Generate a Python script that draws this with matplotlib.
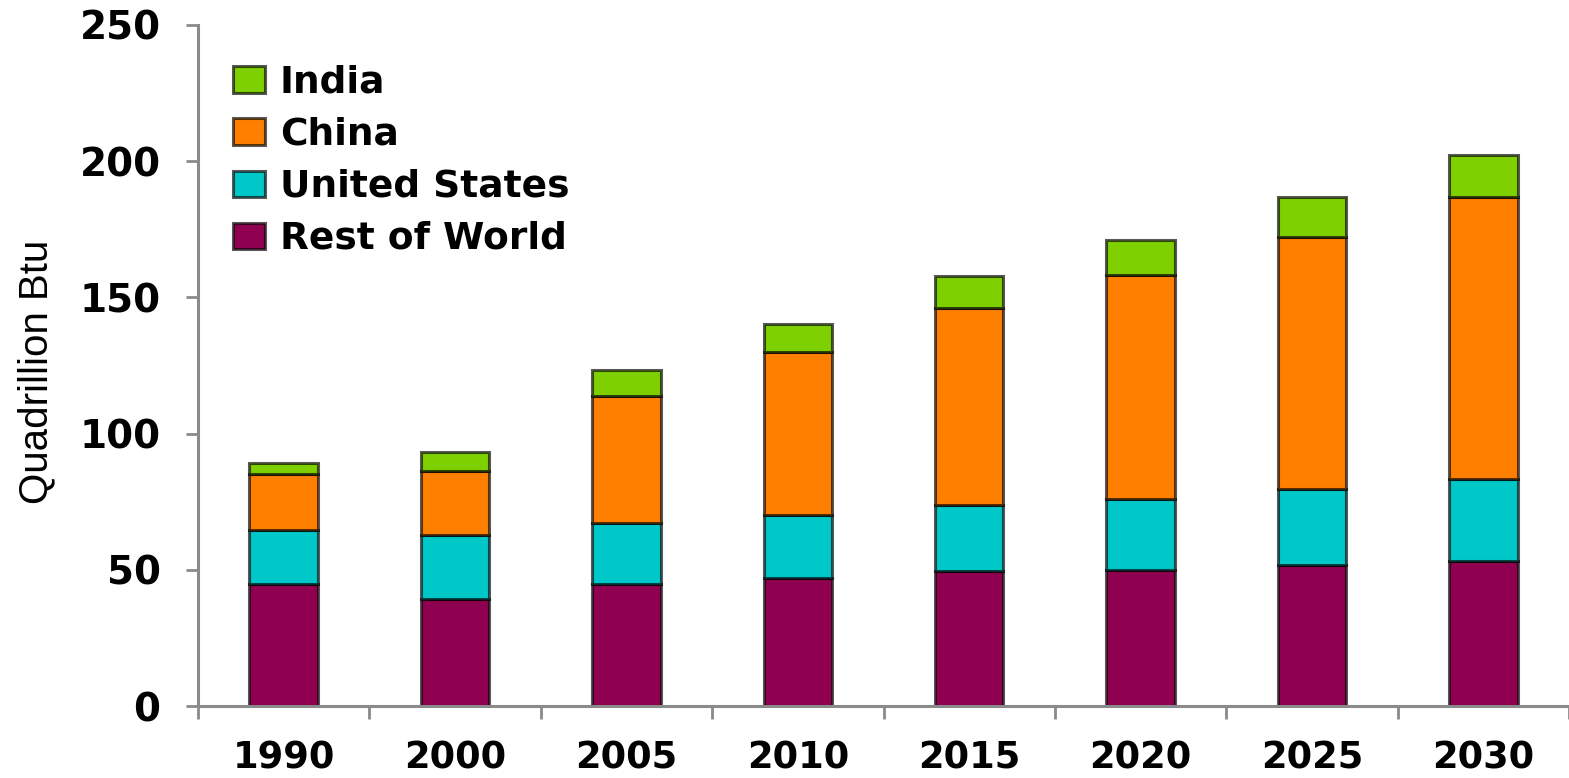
import matplotlib
matplotlib.use("Agg")
import matplotlib.pyplot as plt
import numpy as np

# Coal consumption by region, quadrillion Btu
years = ["1990", "2000", "2005", "2010", "2015", "2020", "2025", "2030"]
rest_of_world = [44.8, 39.2, 44.7, 47.1, 49.7, 49.9, 51.6, 53.2]
united_states = [19.8, 23.5, 22.4, 22.9, 24.1, 26.0, 28.1, 30.3]
china = [20.4, 23.5, 46.7, 59.9, 72.2, 82.3, 92.5, 103.2]
india = [4.1, 6.9, 9.4, 10.2, 12.0, 12.9, 14.5, 15.4]
y_ticks = [0, 50, 100, 150, 200, 250]

plt.rcParams["font.family"] = ["DejaVu Sans"]

series = [
    ("Rest of World", rest_of_world, "#8f0050"),
    ("United States", united_states, "#00c8c8"),
    ("China", china, "#ff8000"),
    ("India", india, "#7fd000"),
]

fig = plt.figure(figsize=(15.69, 7.78), dpi=100)
ax = fig.add_axes([0.1262, 0.0925, 0.8738, 0.8754])

x = np.arange(len(years))
bottom = np.zeros(len(years))
handles = {}
for name, vals, color in series:
    bars = ax.bar(x, vals, width=0.40, bottom=bottom, color=color,
                  edgecolor=(0, 0, 0, 0.65), linewidth=2.2, label=name)
    handles[name] = bars
    bottom += np.array(vals)

ax.set_xlim(-0.5, 7.43)
ax.set_ylim(0, 250)

# axes styling
for s in ["top", "right"]:
    ax.spines[s].set_visible(False)
for s in ["left", "bottom"]:
    ax.spines[s].set_color("#8a8a8a")
    ax.spines[s].set_linewidth(2.2)

ax.set_yticks(y_ticks)
ax.set_yticklabels([str(v) for v in y_ticks], fontsize=28, fontweight="bold")
ax.tick_params(axis="y", direction="out", length=9, width=2, color="#8a8a8a", pad=18)

ax.set_xticks(x)
ax.set_xticklabels(years, fontsize=26.5, fontweight="bold")
ax.set_xticks(np.arange(-0.5, 8.0, 1.0), minor=True)
ax.tick_params(axis="x", which="major", length=0, pad=24)
ax.tick_params(axis="x", which="minor", direction="out", length=9, width=2, color="#8a8a8a")

ax.set_ylabel("Quadrillion Btu", fontsize=29, family="Liberation Sans")
ax.yaxis.set_label_coords(-0.104, 0.49)

order = ["India", "China", "United States", "Rest of World"]
leg = ax.legend([handles[n] for n in order], order, loc="upper left",
                bbox_to_anchor=(0.1485, 0.917), bbox_transform=fig.transFigure,
                frameon=False, prop={"size": 27, "weight": "bold"},
                handlelength=0.85, handleheight=0.7, handletextpad=0.4,
                labelspacing=0.43, borderaxespad=0, borderpad=0)

fig.savefig("out.png", dpi=100)
